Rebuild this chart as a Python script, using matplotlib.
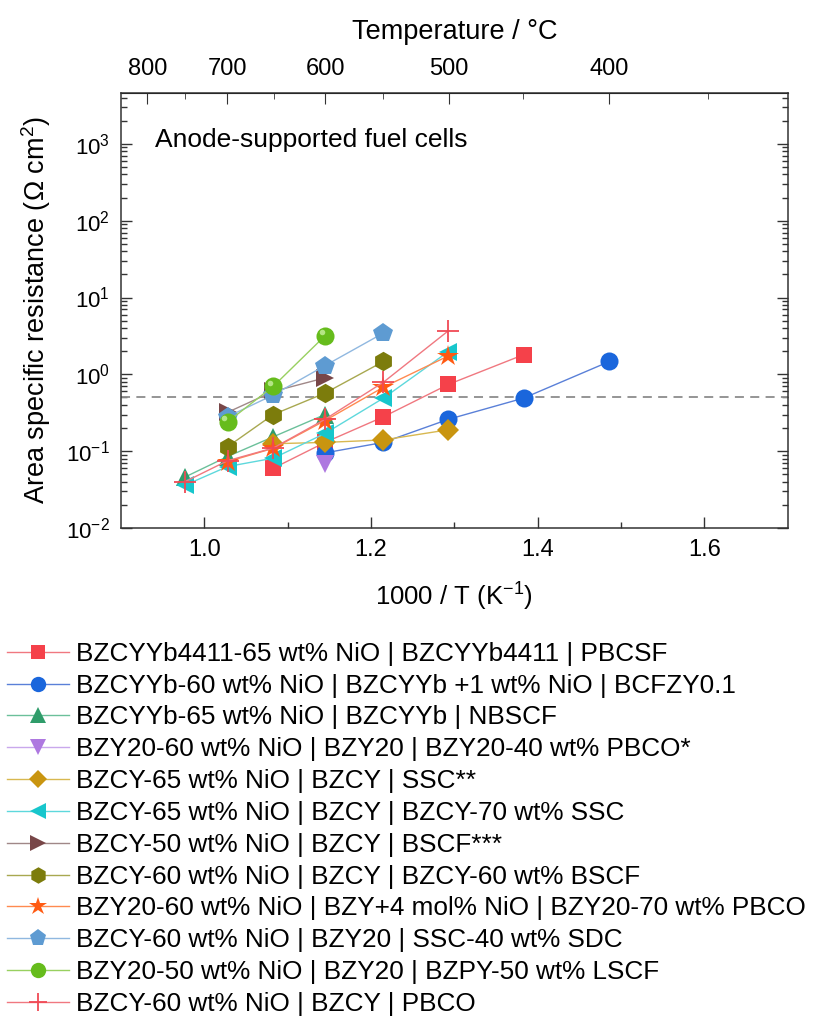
import numpy as np
import matplotlib
matplotlib.use("Agg")
import matplotlib.pyplot as plt
from matplotlib.lines import Line2D
from matplotlib.transforms import ScaledTranslation

plt.rcParams['font.family'] = ['Liberation Sans', 'DejaVu Sans']
plt.rcParams['mathtext.fontset'] = 'custom'
plt.rcParams['mathtext.rm'] = 'Liberation Sans'
plt.rcParams['mathtext.it'] = 'Liberation Sans:italic'
plt.rcParams['mathtext.bf'] = 'Liberation Sans:bold'

# 1000/T values (K^-1) at 750, 700, 650, 600, 550, 500, 450, 400 C
x750, x700, x650, x600 = 0.977, 1.028, 1.083, 1.145
x550, x500, x450, x400 = 1.215, 1.293, 1.383, 1.486

labels = [
    "BZCYYb4411-65 wt% NiO | BZCYYb4411 | PBCSF",
    "BZCYYb-60 wt% NiO | BZCYYb +1 wt% NiO | BCFZY0.1",
    "BZCYYb-65 wt% NiO | BZCYYb | NBSCF",
    "BZY20-60 wt% NiO | BZY20 | BZY20-40 wt% PBCO*",
    "BZCY-65 wt% NiO | BZCY | SSC**",
    "BZCY-65 wt% NiO | BZCY | BZCY-70 wt% SSC",
    "BZCY-50 wt% NiO | BZCY | BSCF***",
    "BZCY-60 wt% NiO | BZCY | BZCY-60 wt% BSCF",
    "BZY20-60 wt% NiO | BZY+4 mol% NiO | BZY20-70 wt% PBCO",
    "BZCY-60 wt% NiO | BZY20 | SSC-40 wt% SDC",
    "BZY20-50 wt% NiO | BZY20 | BZPY-50 wt% LSCF",
    "BZCY-60 wt% NiO | BZCY | PBCO",
]

x_pbcsf = [x650, x600, x550, x500, x450]
asr_pbcsf = [0.060, 0.13, 0.28, 0.74, 1.8]

x_bcfzy = [x600, x550, x500, x450, x400]
asr_bcfzy = [0.095, 0.13, 0.26, 0.49, 1.47]

x_nbscf = [x750, x700, x650, x600]
asr_nbscf = [0.046, 0.085, 0.154, 0.30]

x_pbco_bzy = [x600]
asr_pbco_bzy = [0.069]

x_ssc = [x650, x600, x550, x500]
asr_ssc = [0.125, 0.13, 0.14, 0.19]

x_ssc70 = [x750, x700, x650, x600, x550, x500]
asr_ssc70 = [0.036, 0.063, 0.081, 0.17, 0.49, 1.98]

x_bscf = [x700, x650, x600]
asr_bscf = [0.32, 0.60, 0.90]

x_bscf60 = [x700, x650, x600, x550]
asr_bscf60 = [0.114, 0.30, 0.57, 1.47]

x_pbco70 = [x700, x650, x600, x550, x500]
asr_pbco70 = [0.073, 0.109, 0.25, 0.68, 1.74]

x_sdc = [x700, x650, x600, x550]
asr_sdc = [0.28, 0.54, 1.30, 3.45]

x_lscf = [x700, x650, x600]
asr_lscf = [0.24, 0.70, 3.18]

x_pbco = [x750, x700, x650, x600, x550, x500]
asr_pbco = [0.040, 0.075, 0.11, 0.26, 0.79, 3.7]

xs = [x_pbcsf, x_bcfzy, x_nbscf, x_pbco_bzy, x_ssc, x_ssc70,
      x_bscf, x_bscf60, x_pbco70, x_sdc, x_lscf, x_pbco]
ys = [asr_pbcsf, asr_bcfzy, asr_nbscf, asr_pbco_bzy, asr_ssc, asr_ssc70,
      asr_bscf, asr_bscf60, asr_pbco70, asr_sdc, asr_lscf, asr_pbco]

markers = ['s', 'o', '^', 'v', 'D', '<', '>', 'h', '*', 'p', 'o', '+']
msizes = [12, 13, 13, 13, 11, 13, 13, 14, 16, 15, 13, 16]
mcolors = ['#F5414A', '#1A66DC', '#2F9C6A', '#AE78E0', '#C99510', '#17C6CC',
           '#784648', '#7C7C0C', '#FF5A12', '#5E9BD2', '#66BC1C', '#F04A55']
lcolors = ['#F07880', '#5A80D8', '#6BC09A', '#C9A8EC', '#D8B850', '#5ED8DC',
           '#A08888', '#A8A850', '#FF8A50', '#90B8E0', '#98D060', '#F07880']

fig = plt.figure(figsize=(8.16, 10.23), dpi=100)
ax = fig.add_axes([0.148, 0.4839, 0.8175, 0.4252])

handles = []
for i in range(len(labels)):
    mew = 1.3 if markers[i] == '+' else 0
    ax.plot(xs[i], ys[i], color=lcolors[i], lw=1.0, marker=markers[i],
            ms=msizes[i], mfc=mcolors[i], mec=mcolors[i], mew=mew, zorder=3 + i)
    if i == 10:
        # small highlight on the green spheres
        off = ScaledTranslation(-2.5 / 72, 2.5 / 72, fig.dpi_scale_trans)
        ax.plot(xs[i], ys[i], ls='none', marker='o', ms=4, mfc='#C8F0A0',
                mec='none', alpha=0.8, transform=ax.transData + off, zorder=3 + i)
    handles.append(Line2D([], [], color=lcolors[i], lw=1.0, marker=markers[i],
                          ms=msizes[i] * 0.85, mfc=mcolors[i], mec=mcolors[i],
                          mew=mew))

ax.axhline(0.5, color='#8C8C8C', lw=1.3, ls=(0, (5, 3.5)), zorder=2)

ax.set_xlim(0.9, 1.7)
ax.set_yscale('log')
ax.set_ylim(1e-2, 4.6e3)
ax.set_xticks([1.0, 1.2, 1.4, 1.6])
ax.set_xticks([1.1, 1.3, 1.5], minor=True)
ax.set_xticklabels(['1.0', '1.2', '1.4', '1.6'])
ax.set_yticks([1e-2, 1e-1, 1e0, 1e1, 1e2, 1e3])
ax.set_yticklabels(['$10^{-2}$', '$10^{-1}$', '$10^{0}$', '$10^{1}$',
                    '$10^{2}$', '$10^{3}$'])
ax.tick_params(which='both', direction='in', right=True, width=1.0,
               color='#333333')
ax.tick_params(axis='x', labelsize=17)
ax.tick_params(axis='y', labelsize=16)
ax.tick_params(which='major', length=8, pad=8)
ax.tick_params(which='minor', length=4.5)
ax.tick_params(axis='y', which='minor', labelleft=False)
for s in ax.spines.values():
    s.set_linewidth(1.1)
    s.set_color('#333333')

ax.set_xlabel('1000 / T (K$^{-1}$)', fontsize=18.5, labelpad=14)
ax.set_ylabel('Area specific resistance (Ω cm$^2$)', fontsize=19.5, labelpad=9)
ax.text(0.052, 0.893, 'Anode-supported fuel cells', transform=ax.transAxes,
        fontsize=19, va='center', ha='left')

# temperature scale on top
secax = ax.secondary_xaxis('top', functions=(lambda x: 1000.0 / x - 273.15,
                                            lambda t: 1000.0 / (t + 273.15)))
secax.set_xticks([800, 700, 600, 500, 400])
secax.set_xticks([750, 650, 550, 450, 350], minor=True)
secax.set_xticklabels(['800', '700', '600', '500', '400'])
secax.tick_params(which='both', direction='in', labelsize=17, color='#333333')
secax.tick_params(which='major', length=8, pad=9)
secax.tick_params(which='minor', length=4.5)
secax.set_xlabel('Temperature / °C', fontsize=19.5, labelpad=14)

fig.legend(handles, labels, loc='upper left', bbox_to_anchor=(0.0, 0.379),
           frameon=False, fontsize=18.8, handlelength=2.4, handletextpad=0.25,
           labelspacing=0.3, borderpad=0.2, borderaxespad=0.05)

fig.savefig('out.png', dpi=100)
